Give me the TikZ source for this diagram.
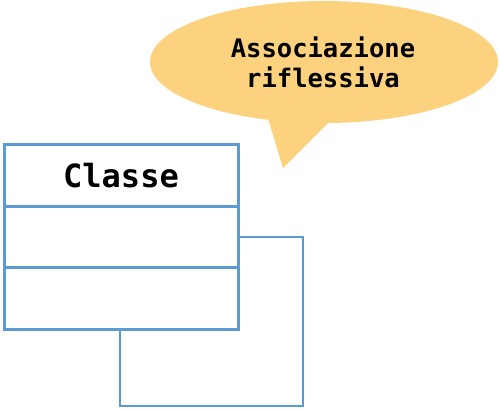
\documentclass[tikz,border=0pt]{standalone}
\usepackage{fontspec}
\setmonofont{DejaVu Sans Mono}
\usetikzlibrary{shapes.geometric}
\definecolor{umlblue}{HTML}{5B9BD5}
\definecolor{bubble}{HTML}{FDD27F}
\tikzset{
  compart/.style={draw=umlblue, line width=3pt, minimum width=234pt, minimum height=61.7pt, inner sep=0pt, outer sep=0pt, font=\ttfamily\bfseries\fontsize{32}{32}\selectfont},
  loopline/.style={draw=umlblue, line width=2.4pt},
  bubbletext/.style={font=\ttfamily\bfseries\fontsize{25.5}{30}\selectfont, align=center}
}
\begin{document}
\begin{tikzpicture}[x=1pt,y=-1pt]
\useasboundingbox (0,0) rectangle (500,410);
% speech bubble
\node[ellipse, fill=bubble, minimum width=348pt, minimum height=122pt, inner sep=0pt] (bub) at (324,62) {};
\coordinate (tip) at (283,168);
\fill[bubble] (266,112) -- (tip) -- (336,115) -- cycle;
\node[bubbletext] (txt) at (323,62) {Associazione\\riflessiva};
% class
\node[compart, anchor=north west] (c1) at (4,144.5) {Classe};
\node[compart, anchor=north] (c2) at (c1.south) {};
\node[compart, anchor=north] (c3) at (c2.south) {};
% reflexive association
\coordinate (corner) at (303,406);
\coordinate (loopend) at (120,328);
\draw[loopline] (c2.east) -| (corner) -| (loopend);
\end{tikzpicture}
\end{document}
